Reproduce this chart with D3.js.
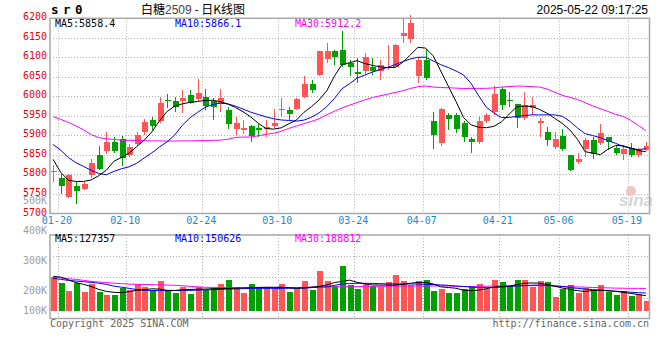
<!DOCTYPE html>
<html><head><meta charset="utf-8">
<script src="https://cdn.jsdelivr.net/npm/d3@7"></script>
<style>body{margin:0;background:#fff;}svg{display:block}</style>
</head><body><svg id="c" width="660" height="360"></svg>
<script>
const dates = ["01-20","01-21","01-22","01-23","01-24","01-27","02-05","02-06","02-07","02-10","02-11","02-12","02-13","02-14","02-17","02-18","02-19","02-20","02-21","02-24","02-25","02-26","02-27","02-28","03-03","03-04","03-05","03-06","03-07","03-10","03-11","03-12","03-13","03-14","03-17","03-18","03-19","03-20","03-21","03-24","03-25","03-26","03-27","03-28","03-31","04-01","04-02","04-03","04-07","04-08","04-09","04-10","04-11","04-14","04-15","04-16","04-17","04-18","04-21","04-22","04-23","04-24","04-25","04-28","04-29","04-30","05-06","05-07","05-08","05-09","05-12","05-13","05-14","05-15","05-16","05-19","05-20","05-21","05-22"];
const open = [5807,5791,5741,5771,5764,5799,5850,5859,5884,5891,5850,5878,5910,5940,5936,5991,5989,5987,6004,5993,5998,5987,5981,5965,5917,5913,5925,5919,5916,5923,5964,5965,5967,5998,6032,6055,6095,6115,6119,6085,6063,6065,6075,6066,6072,6076,6155,6146,6051,6092,5936,5880,5953,5953,5933,5891,5882,5936,5959,6019,5990,5981,5944,5970,5933,5910,5870,5899,5850,5832,5865,5887,5880,5895,5868,5853,5868,5850,5863];
const high = [5823,5802,5800,5782,5780,5839,5872,5910,5897,5899,5879,5908,5942,5947,5999,6006,5998,6017,6017,6044,6019,5996,6019,5974,5948,5940,5926,5930,5940,5967,5995,5974,5996,6052,6042,6116,6136,6119,6168,6093,6098,6110,6098,6093,6132,6133,6200,6208,6102,6121,5959,5970,5957,5957,5938,5897,5948,5958,6027,6024,6012,5981,6012,5998,5944,5921,5910,5916,5851,5855,5893,5896,5930,5895,5872,5876,5880,5868,5884];
const low = [5780,5751,5740,5724,5761,5791,5812,5853,5855,5821,5846,5872,5902,5914,5931,5970,5961,5957,5981,5989,5965,5940,5959,5916,5902,5904,5884,5897,5896,5919,5948,5940,5965,5995,6008,6052,6085,6081,6075,6051,6034,6055,6055,6042,6068,6075,6136,6136,6034,6042,5865,5873,5914,5907,5882,5856,5879,5933,5953,5965,5972,5919,5940,5953,5897,5872,5865,5861,5808,5827,5845,5839,5876,5863,5850,5838,5845,5845,5859];
const close = [5809,5771,5799,5757,5776,5829,5815,5882,5861,5842,5871,5900,5935,5923,5984,5987,5974,5995,5984,6008,5976,5972,5996,5930,5933,5919,5899,5914,5921,5931,5967,5955,5993,6032,6017,6115,6115,6102,6081,6075,6057,6102,6066,6081,6076,6132,6163,6189,6092,6047,5902,5968,5942,5917,5896,5884,5937,5953,6006,5978,5988,5944,5978,5978,5936,5887,5891,5865,5812,5840,5887,5853,5906,5884,5855,5865,5850,5863,5873];
const volume = [289,238,170,238,162,227,162,133,133,190,176,224,204,167,252,176,153,201,142,204,176,190,230,261,204,153,230,190,204,190,230,162,190,252,176,340,252,210,380,218,184,227,210,204,244,303,252,218,252,261,167,184,153,153,184,204,227,184,261,244,210,261,261,204,252,244,114,184,218,153,196,176,218,162,135,167,125,142,80].map(v => v * 1000);
const ma5 = [5838.6,5805.4,5785.4,5782.1,5782.1,5785.9,5796.7,5811,5833.8,5843.5,5854.5,5871.4,5888,5909.2,5937.3,5961.4,5974.9,5980.8,5984.7,5987,5989.5,5990,5986.7,5980.3,5971.4,5960.6,5947.3,5931.2,5917.7,5916.1,5919.4,5929.7,5939.1,5959.1,5973.7,5991,6014.1,6051.2,6081.6,6086.2,6091.6,6084.1,6079.3,6075.7,6073.7,6074.2,6087,6106.1,6125.8,6123.8,6104.1,6065.2,6026.3,5987.5,5946,5927.1,5921,5919.7,5923.3,5934.8,5954.2,5973.4,5975.2,5974.2,5966.5,5956.8,5943.7,5930.7,5913.8,5890,5858.3,5854.7,5850.6,5864.5,5874.2,5873.4,5867.8,5861.1,5858.4];
const ma10 = [5876.7,5862.2,5843.5,5830.2,5820.5,5810.8,5802.6,5799.2,5807.9,5814.6,5819.7,5828.6,5842.5,5855.5,5870.3,5883.6,5901,5925.8,5944.8,5959.1,5971.9,5979.3,5982.9,5980.8,5974.9,5967.5,5959.6,5953.5,5947.6,5942.7,5939.6,5938.4,5936.6,5939.1,5946.6,5957.8,5973.7,5994.1,6019.4,6032.5,6046.8,6054.5,6062.2,6068.3,6074.2,6081.3,6089,6095.7,6100.3,6100.3,6090.8,6081.3,6073.9,6065.2,6055,6033.2,6001.3,5972.4,5957.3,5945.8,5946,5948.9,5950.9,5952.7,5952.5,5952.9,5952.6,5949.1,5936.1,5918.9,5904.6,5899.7,5894.1,5886.7,5879.8,5871.9,5867,5863.4,5866.1];
const ma30 = [5948.3,5941.2,5933.5,5924.6,5914.3,5902.3,5894.4,5891.3,5889.8,5887.7,5887.5,5887,5886.5,5886,5886,5885.5,5885.5,5886,5886,5886.5,5887,5887.5,5888,5890,5894.9,5895.7,5895.9,5899,5902.8,5905.6,5910.5,5917.9,5924,5929.9,5935.8,5942.7,5952.7,5961.9,5970.3,5977.5,5984.1,5990.8,5996.9,6001.3,6005.6,6010,6014.1,6020.2,6024.6,6026.6,6023.8,6022.8,6022,6021.2,6020.2,6020.4,6020.5,6020.7,6021.7,6023.8,6025.1,6026.3,6026.1,6024.8,6023.8,6018.9,6010.7,6002.6,5997.4,5992.1,5983.9,5975.7,5968.5,5961.4,5954,5948.9,5938.9,5925.6,5912.2];
const vma5 = [292,286,263,239,224,206,181,164,156,154,162,173,179,186,184,173,172,178,180,183,184,186,188,190,191,193,196,198,199,199,199,196,192,193,200,206,219,239,248,260,241,229,219,218,218,218,224,233,241,241,228,203,197,191,174,170,175,187,200,206,209,221,233,236,234,223,208,193,181,170,163,172,174,170,165,156,147,137,127.357].map(v => v * 1000);
const vma10 = [274,267,257,252,247,240,234,224,209,200,190,180,173,172,171,170,171,172,173,175,177,179,181,184,185,187,189,190,190.5,190,190,190.5,190,193,196,201,203,215,227,231,233,233,232,230,228,227,227,227.5,227,224,222,219,215,210,206,201,197,196,198,201,206,210,213,217,218,215,211,206,197,190,184,179,175,169,165,162,157,153,150.626].map(v => v * 1000);
const vma30 = [283,278,272,266,258,249,244,239,234,230,226,224,223,221,219,218,216,212,207,203,199,198,197,196,196,195.5,195,195,195.5,196,196,196.5,196,198,200,201,201,202,203,203,204,205,207,207,208,209,210,210,210.5,210,210,210.5,210,207,205,206,207,208,210,211,212,212,213,213,212,211,210,207,205,202,200,197,196,194,192,191,190,190,188.812].map(v => v * 1000);
const priceTicks = [6200,6150,6100,6050,6000,5950,5900,5850,5800,5750,5700];
const volTickValues = [500000,400000,300000,200000,100000];
const volTickLabels = ["500K","400K","300K","200K","100K"];
const dateTicks = ["01-20","02-10","02-24","03-10","03-24","04-07","04-21","05-06","05-19"];
const lastMA = {ma5:"5858.4", ma10:"5866.1", ma30:"5912.2", vma5:"127357", vma10:"150626", vma30:"188812"};

const svg = d3.select("#c");
const L = 50, R = 649.5;
const pTop = 18.3, pBot = 213.5;
const vTop = 235, vBot = 318.5;
const MONO = "'DejaVu Sans Mono', 'Liberation Mono', monospace";
const RED = "#ff5555", GREEN = "#00a000";

const x = d3.scaleBand().domain(dates).range([49.3, 649.7]).padding(0);
const step = x.step();
const cx = d => x(d) + step / 2;
const y = d3.scaleLinear().domain([5700, 6200]).range([pBot, pTop]);
const yv = d3.scaleLinear().domain([0, 700000]).range([310.7, 310.7 - 700000 / 8500]);
// Sina places the volume axis captions at these (non-uniform) heights
const yvLabel = d3.scaleLinear().domain(volTickValues).range([200.5, 230.5, 260.5, 290, 310]);

const data = dates.map((d, i) => ({d, o: open[i], h: high[i], l: low[i], c: close[i], v: volume[i],
  up: close[i] >= open[i]}));

// grids
const gGrid = svg.append("g").attr("stroke", "#b0b0b0").attr("stroke-dasharray", "1,2").attr("stroke-width", 1);
priceTicks.slice(1, -1).forEach(p => {
  gGrid.append("line").attr("x1", L).attr("x2", R).attr("y1", Math.round(y(p)) + 0.5).attr("y2", Math.round(y(p)) + 0.5);
});
[0.25, 0.5, 0.75].forEach(f => {
  const yy = Math.round(vTop + (vBot - vTop) * f) + 0.5;
  gGrid.append("line").attr("x1", L).attr("x2", R).attr("y1", yy).attr("y2", yy);
});
dateTicks.forEach(d => {
  const gx = Math.round(cx(d) + step * 0.63) + 0.5;
  gGrid.append("line").attr("x1", gx).attr("x2", gx).attr("y1", pTop).attr("y2", pBot);
  gGrid.append("line").attr("x1", gx).attr("x2", gx).attr("y1", vTop).attr("y2", vBot);
});

// sina watermark
svg.append("circle").attr("cx", 631).attr("cy", 191).attr("r", 5).attr("fill", "#f3c4c4");
svg.append("text").attr("x", 619).attr("y", 206).attr("font-family", "'Liberation Sans', Arial, sans-serif")
  .attr("font-size", 17).attr("font-weight", "bold").attr("font-style", "italic").attr("fill", "#d6d6d6").text("sina");

// candles
const bw = 6;
const gC = svg.append("g");
data.forEach(k => {
  const bx = Math.round(cx(k.d) - bw / 2);
  const col = k.up ? RED : GREEN;
  gC.append("line").attr("x1", bx + 3.5).attr("x2", bx + 3.5).attr("y1", y(k.h)).attr("y2", y(k.l))
    .attr("stroke", col).attr("stroke-width", 1).attr("shape-rendering", "crispEdges");
  const top = y(Math.max(k.o, k.c)), bot = y(Math.min(k.o, k.c));
  gC.append("rect").attr("x", bx + 0.5).attr("width", bw).attr("y", top).attr("height", Math.max(1, bot - top))
    .attr("fill", col).attr("shape-rendering", "crispEdges");
});

// MA lines price
const lineP = arr => d3.line().x((v, i) => cx(dates[i])).y(v => y(v))(arr);
[[ma30, "#ff00ff"], [ma10, "#0000ff"], [ma5, "#000000"]].forEach(([arr, col]) => {
  svg.append("path").attr("d", lineP(arr)).attr("fill", "none").attr("stroke", col).attr("stroke-width", 1);
});

// volume bars
const gV = svg.append("g");
data.forEach(k => {
  const bx = Math.round(cx(k.d) - bw / 2);
  gV.append("rect").attr("x", bx + 0.5).attr("width", bw).attr("y", yv(k.v)).attr("height", yv(0) - yv(k.v))
    .attr("fill", k.up ? RED : GREEN).attr("shape-rendering", "crispEdges");
});
const lineV = arr => d3.line().x((v, i) => cx(dates[i])).y(v => yv(v))(arr);
[[vma30, "#ff00ff"], [vma10, "#0000ff"], [vma5, "#000000"]].forEach(([arr, col]) => {
  svg.append("path").attr("d", lineV(arr)).attr("fill", "none").attr("stroke", col).attr("stroke-width", 1);
});

// borders
svg.append("rect").attr("x", L).attr("y", pTop).attr("width", R - L).attr("height", pBot - pTop)
  .attr("fill", "none").attr("stroke", "#a8a8a8").attr("stroke-width", 1.5);
svg.append("rect").attr("x", L).attr("y", vTop).attr("width", R - L).attr("height", vBot - vTop)
  .attr("fill", "none").attr("stroke", "#a8a8a8").attr("stroke-width", 1.5);

// price axis labels
priceTicks.forEach(p => {
  svg.append("text").attr("x", 47).attr("y", y(p) + 2).attr("text-anchor", "end")
    .attr("font-family", MONO).attr("font-size", 10).attr("fill", "#ee0000").text(p);
});
// volume labels
volTickValues.forEach((v, i) => {
  svg.append("text").attr("x", 47).attr("y", yvLabel(v) + 3.5).attr("text-anchor", "end")
    .attr("font-family", MONO).attr("font-size", 10).attr("fill", "#a0a0a0").text(volTickLabels[i]);
});
// date labels
dateTicks.forEach(d => {
  svg.append("text").attr("x", cx(d) + step * 0.63 - 1).attr("y", 224).attr("text-anchor", "middle")
    .attr("font-family", MONO).attr("font-size", 10).attr("fill", "#1a88d0").text(d);
});

// legends
const leg = (xx, yy, txt, col) => svg.append("text").attr("x", xx).attr("y", yy)
  .attr("font-family", MONO).attr("font-size", 10).attr("fill", col).text(txt);
leg(55, 27, "MA5:" + lastMA.ma5, "#000");
leg(175, 27, "MA10:" + lastMA.ma10, "#0000ff");
leg(295, 27, "MA30:" + lastMA.ma30, "#ff00ff");
leg(55, 242, "MA5:" + lastMA.vma5, "#000");
leg(175, 242, "MA10:" + lastMA.vma10, "#0000ff");
leg(295, 242, "MA30:" + lastMA.vma30, "#ff00ff");

// header
svg.append("text").attr("x", 51).attr("y", 14).attr("font-family", MONO).attr("font-size", 12.5)
  .attr("font-weight", "bold").attr("letter-spacing", -1.5).attr("fill", "#000").text("s r 0");
const t = svg.append("text").attr("x", 141).attr("y", 14).attr("font-family", "'Noto Sans CJK SC', sans-serif")
  .attr("font-size", 12).attr("fill", "#000");
t.append("tspan").text("白糖");
t.append("tspan").attr("fill", "#444").attr("font-family", "'Liberation Sans', Arial, sans-serif").text("2509");
t.append("tspan").text(" - 日K线图");
svg.append("text").attr("x", 648).attr("y", 14).attr("text-anchor", "end")
  .attr("font-family", "'Liberation Sans', Arial, sans-serif").attr("font-size", 12).attr("fill", "#000")
  .text("2025-05-22 09:17:25");

// footer
svg.append("text").attr("x", 50).attr("y", 327).attr("font-family", MONO).attr("font-size", 10)
  .attr("fill", "#666").text("Copyright 2025 SINA.COM");
svg.append("text").attr("x", 649).attr("y", 327).attr("text-anchor", "end").attr("font-family", MONO)
  .attr("font-size", 10).attr("fill", "#666").text("http://finance.sina.com.cn");
</script></body></html>
